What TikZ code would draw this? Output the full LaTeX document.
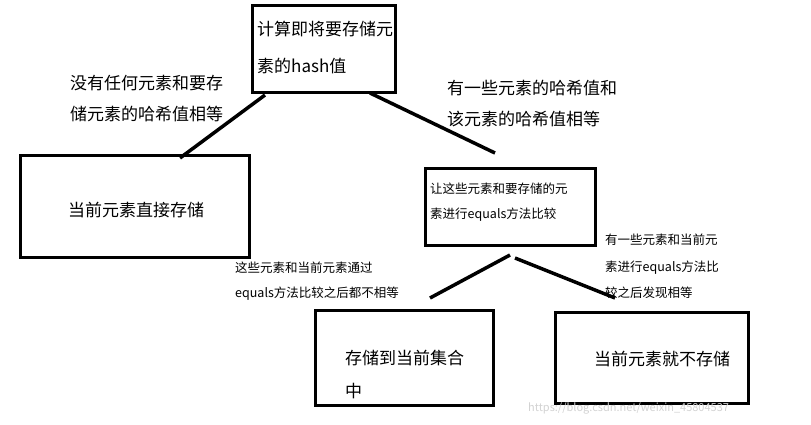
\documentclass[tikz,border=0pt]{standalone}
\usepackage{fontspec}
\setmainfont{Noto Sans CJK SC}
\begin{document}
\begin{tikzpicture}[x=1pt,y=-1pt,
  box/.style={draw,line width=3pt,inner sep=0pt},
  conn/.style={line width=3.5pt},
  big/.style={font=\fontsize{17}{31}\selectfont,align=left,anchor=north west,inner sep=0pt},
  small/.style={font=\fontsize{12.5}{25}\selectfont,align=left,anchor=north west,inner sep=0pt}]
\useasboundingbox (0,0) rectangle (811,424);
\draw[box] (252,5) rectangle (395,92);
\draw[box] (20,155) rectangle (249,257);
\draw[box] (425,168) rectangle (595,245);
\draw[box] (315,310) rectangle (493,405);
\draw[box] (555,312) rectangle (748,403);
\node[big,font=\fontsize{17}{37}\selectfont] (t1) at (257,21) {计算即将要存储元\\素的hash值};
\node[big] (t2) at (136,210) [anchor=center] {当前元素直接存储};
\node[small] (t3) at (430,183) {让这些元素和要存储的元\\素进行equals方法比较};
\node[big,font=\fontsize{17}{33}\selectfont] (t4) at (345,350) {存储到当前集合\\中};
\node[big] (t5) at (662,359) [anchor=center] {当前元素就不存储};
\node[big] (l1) at (70,75) {没有任何元素和要存\\储元素的哈希值相等};
\node[big] (l2) at (447,80) {有一些元素的哈希值和\\该元素的哈希值相等};
\node[small] (l3) at (235,262) {这些元素和当前元素通过\\equals方法比较之后都不相等};
\node[small,font=\fontsize{12.5}{26.5}\selectfont] (l4) at (605,234) {有一些元素和当前元\\素进行equals方法比\\较之后发现相等};
\node[font=\fontsize{11}{12}\selectfont,text=gray!35,anchor=south west,inner sep=0pt] (wm) at (528,414) {https://blog.csdn.net/weixin\_45804537};
\coordinate (a1) at (265,95); \coordinate (a2) at (180,158);
\coordinate (c1) at (370,93); \coordinate (c2) at (495,153);
\coordinate (d1) at (510,255); \coordinate (d2) at (430,298);
\coordinate (e1) at (515,258); \coordinate (e2) at (615,298);
\draw[conn] (a1) -- (a2);
\draw[conn] (c1) -- (c2);
\draw[conn] (d1) -- (d2);
\draw[conn] (e1) -- (e2);
\end{tikzpicture}
\end{document}
